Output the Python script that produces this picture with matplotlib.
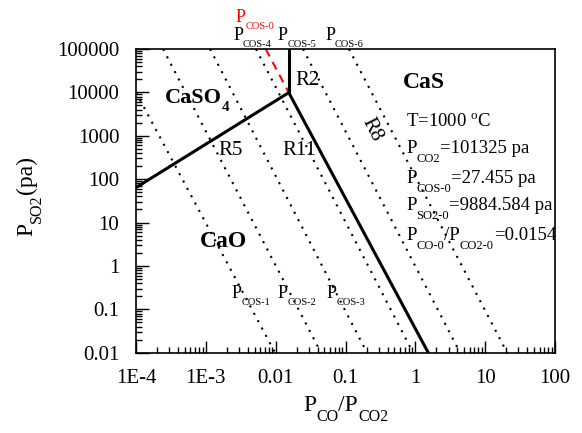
import numpy as np
import matplotlib.pyplot as plt
from matplotlib.transforms import IdentityTransform
from matplotlib.ticker import LogLocator, NullFormatter, FixedLocator, FixedFormatter

plt.rcParams['font.family'] = ['Liberation Serif', 'DejaVu Serif']
plt.rcParams['mathtext.fontset'] = 'custom'
plt.rcParams['mathtext.rm'] = 'Liberation Serif'

# phase boundaries (P_CO/P_CO2, P_SO2)
triple_x, triple_y = 0.0154, 9884.584
r5_x = [1e-4, triple_x]
r5_y = [64, triple_y]
r2_x = [triple_x, triple_x]
r2_y = [triple_y, 1e5]
r11_x = [triple_x, 1.53]
r11_y = [triple_y, 0.01]
cos0_x = [0.0072, triple_x]
cos0_y = [1e5, triple_y]

# iso-P_COS lines: start and end points
iso_x0 = [1e-4, 2.44e-4, 1.15e-3, 5.23e-3, 0.0246, 0.112]
iso_y0 = [1e4, 1e5, 1e5, 1e5, 1e5, 1e5]
iso_x1 = [9.8e-3, 0.0446, 0.203, 0.927, 4.37, 20.6]
iso_y1 = [0.01, 0.01, 0.01, 0.01, 0.01, 0.01]

xticks = [1e-4, 1e-3, 1e-2, 1e-1, 1, 10, 100]
xticklabels = ['1E-4', '1E-3', '0.01', '0.1', '1', '10', '100']
yticks = [1e-2, 1e-1, 1, 10, 100, 1e3, 1e4, 1e5]
yticklabels = ['0.01', '0.1', '1', '10', '100', '1000', '10000', '100000']

fig = plt.figure(figsize=(5.82, 4.33), dpi=100)
ax = fig.add_axes([0.2337, 0.1855, 0.7199, 0.7013])
ax.set_xscale('log')
ax.set_yscale('log')
ax.set_xlim(1e-4, 100)
ax.set_ylim(0.01, 1e5)

for xa, ya, xb, yb in zip(iso_x0, iso_y0, iso_x1, iso_y1):
    ax.plot([xa, xb], [ya, yb], color='black', lw=1.5, linestyle=(0, (1, 3)))

ax.plot(cos0_x, cos0_y, color='red', lw=1.5, linestyle=(0, (4, 3)))
for xs, ys in [(r5_x, r5_y), (r2_x, r2_y), (r11_x, r11_y)]:
    ax.plot(xs, ys, color='black', lw=2.2, solid_capstyle='butt')

for s in ax.spines.values():
    s.set_linewidth(1.2)

ax.xaxis.set_major_locator(FixedLocator(xticks))
ax.xaxis.set_major_formatter(FixedFormatter(xticklabels))
ax.yaxis.set_major_locator(FixedLocator(yticks))
ax.yaxis.set_major_formatter(FixedFormatter(yticklabels))
ax.xaxis.set_minor_locator(LogLocator(base=10, subs=np.arange(2, 10), numticks=20))
ax.yaxis.set_minor_locator(LogLocator(base=10, subs=np.arange(2, 10), numticks=20))
ax.xaxis.set_minor_formatter(NullFormatter())
ax.yaxis.set_minor_formatter(NullFormatter())
ax.tick_params(which='both', direction='in', top=False, right=False, labelsize=15)
ax.tick_params(which='major', length=9, width=1.0)
ax.tick_params(which='minor', length=4.5, width=1.0)
ax.tick_params(axis='x', pad=12)
ax.tick_params(axis='y', pad=12)

renderer = fig.canvas.get_renderer()
px_per_pt = fig.dpi / 72.0


def rich(x, y, parts, size, sub_size, drop, transform=None, rotation=0,
         ha='left', color='black', weight='normal'):
    """Write text pieces one after another; pieces flagged True sit lowered as subscripts."""
    if transform is None:
        transform = ax.transData
    x0, y0 = transform.transform((x, y))
    pieces = []
    for s, is_sub in parts:
        t = fig.text(0, 0, s, fontsize=sub_size if is_sub else size,
                     color=color, fontweight=weight, rotation=rotation,
                     rotation_mode='anchor', ha='left', va='baseline',
                     transform=IdentityTransform())
        bb = t.get_window_extent(renderer)
        adv = bb.height if rotation == 90 else bb.width
        pieces.append((t, adv, is_sub))
    total = sum(p[1] for p in pieces)
    pos = {'left': 0, 'center': -total / 2, 'right': -total}[ha]
    for t, adv, is_sub in pieces:
        off = drop * px_per_pt if is_sub else 0
        if rotation == 90:
            t.set_position((x0 + off, y0 + pos))
        else:
            t.set_position((x0 + pos, y0 - off))
        pos += adv


# axis titles
rich(0.5, -0.192, [('P', False), ('CO', True), ('/P', False), ('CO2', True)],
     17, 11.5, 7, transform=ax.transAxes, ha='center')
rich(-0.248, 0.516, [('P', False), ('SO2', True), ('(pa)', False)],
     17, 11.5, 6, transform=ax.transAxes, ha='center', rotation=90)

# iso-P_COS line labels
cos_labels = [(2.70e-3, 4.17e5, '0', 'red'),
              (2.45e-3, 1.6e5, '4', 'black'),
              (0.0108, 1.6e5, '5', 'black'),
              (0.0509, 1.6e5, '6', 'black'),
              (2.37e-3, 0.182, '1', 'black'),
              (0.0108, 0.182, '2', 'black'),
              (0.0543, 0.182, '3', 'black')]
for lx, ly, n, c in cos_labels:
    rich(lx, ly, [('P', False), ('COS-' + n, True)], 13, 7.5, 5, color=c)

kw = dict(va='baseline', ha='left')
ax.text(0.0189, 1.47e4, 'R2', fontsize=15, **kw)
ax.text(1.49e-3, 359, 'R5', fontsize=15, **kw)
ax.text(0.0123, 359, 'R11', fontsize=15, **kw)
ax.text(0.240, 1352, 'R8', fontsize=15, rotation=-63, ha='center', va='center')

rich(2.6e-4, 5670, [('CaSO', False), ('4', True)], 16, 11, 6, weight='bold')
ax.text(0.667, 12560, 'CaS', fontsize=17, fontweight='bold', **kw)
ax.text(8.25e-4, 2.72, 'CaO', fontsize=17, fontweight='bold', **kw)

# operating conditions
ax.text(0.734, 1675, r'T=1000 $\mathregular{^{o}}$C', fontsize=13.5, **kw)
rich(0.734, 399, [('P', False), ('CO2', True), ('=101325 pa', False)], 13.5, 9, 6.5)
rich(0.734, 81.3, [('P', False), ('COS-0', True), ('=27.455 pa', False)], 13.5, 9, 6.5)
rich(0.734, 19.4, [('P', False), ('SO2-0', True), ('=9884.584 pa', False)], 13.5, 9, 6.5)
rich(0.734, 3.95, [('P', False), ('CO-0', True), ('/P', False), ('CO2-0', True),
                   ('=0.0154', False)], 13.5, 9, 6.5)

fig.savefig('out.png', dpi=100)
